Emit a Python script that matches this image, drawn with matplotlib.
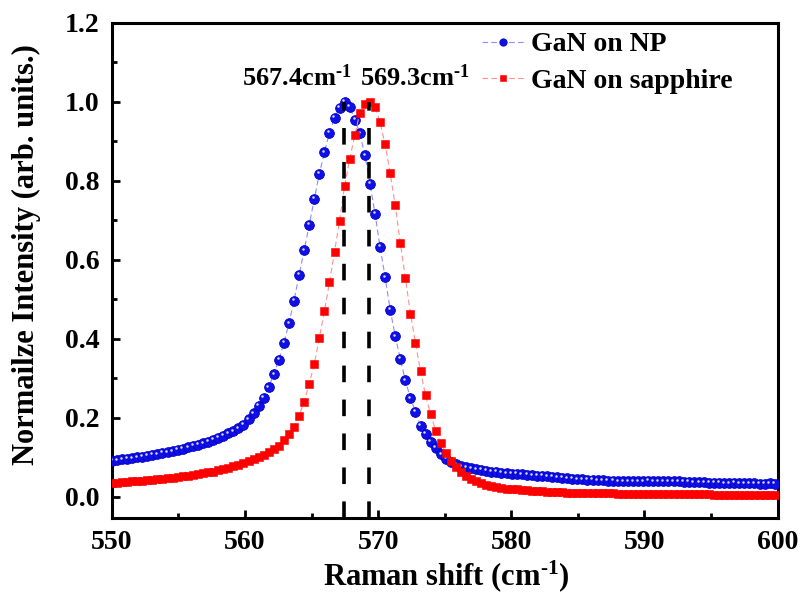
import matplotlib
matplotlib.use("Agg")
import matplotlib.pyplot as plt
from matplotlib.ticker import MultipleLocator
from matplotlib.transforms import offset_copy

plt.rcParams['font.family'] = ['Liberation Serif', 'DejaVu Serif']
plt.rcParams['font.weight'] = 'bold'
plt.rcParams['mathtext.fontset'] = 'custom'
plt.rcParams['mathtext.rm'] = 'Liberation Serif:bold'
plt.rcParams['mathtext.bf'] = 'Liberation Serif:bold'
plt.rcParams['mathtext.default'] = 'bf'

# Raman shift (cm-1), same grid for both samples
shift = [
    550.00, 550.38, 550.76, 551.14, 551.52, 551.90, 552.28, 552.66, 553.04, 553.42,
    553.80, 554.18, 554.56, 554.94, 555.32, 555.70, 556.08, 556.46, 556.84, 557.22,
    557.60, 557.98, 558.36, 558.74, 559.12, 559.50, 559.88, 560.26, 560.64, 561.02,
    561.40, 561.78, 562.16, 562.54, 562.92, 563.30, 563.68, 564.06, 564.44, 564.82,
    565.20, 565.58, 565.96, 566.34, 566.72, 567.10, 567.48, 567.86, 568.24, 568.62,
    569.00, 569.38, 569.76, 570.14, 570.52, 570.90, 571.28, 571.66, 572.04, 572.42,
    572.80, 573.18, 573.56, 573.94, 574.32, 574.70, 575.08, 575.46, 575.84, 576.22,
    576.60, 576.98, 577.36, 577.74, 578.12, 578.50, 578.88, 579.26, 579.64, 580.02,
    580.40, 580.78, 581.16, 581.54, 581.92, 582.30, 582.68, 583.06, 583.44, 583.82,
    584.20, 584.58, 584.96, 585.34, 585.72, 586.10, 586.48, 586.86, 587.24, 587.62,
    588.00, 588.38, 588.76, 589.14, 589.52, 589.90, 590.28, 590.66, 591.04, 591.42,
    591.80, 592.18, 592.56, 592.94, 593.32, 593.70, 594.08, 594.46, 594.84, 595.22,
    595.60, 595.98, 596.36, 596.74, 597.12, 597.50, 597.88, 598.26, 598.64, 599.02,
    599.40, 599.78,
]

# normalized intensity, GaN on NP
gan_np = [
    0.092, 0.093, 0.095, 0.096, 0.098, 0.100, 0.102, 0.104, 0.106, 0.108,
    0.111, 0.113, 0.116, 0.119, 0.122, 0.125, 0.129, 0.132, 0.136, 0.140,
    0.145, 0.150, 0.155, 0.161, 0.166, 0.174, 0.183, 0.196, 0.212, 0.230,
    0.251, 0.278, 0.310, 0.347, 0.390, 0.440, 0.497, 0.562, 0.624, 0.689,
    0.755, 0.818, 0.872, 0.922, 0.959, 0.985, 1.000, 0.988, 0.955, 0.920,
    0.865, 0.793, 0.717, 0.633, 0.556, 0.474, 0.407, 0.349, 0.295, 0.250,
    0.215, 0.180, 0.160, 0.140, 0.124, 0.108, 0.097, 0.088, 0.082, 0.078,
    0.075, 0.072, 0.070, 0.068, 0.066, 0.064, 0.063, 0.061, 0.060, 0.059,
    0.058, 0.057, 0.056, 0.055, 0.054, 0.053, 0.052, 0.051, 0.050, 0.049,
    0.047, 0.046, 0.045, 0.044, 0.043, 0.043, 0.042, 0.042, 0.041, 0.041,
    0.040, 0.040, 0.040, 0.039, 0.040, 0.040, 0.041, 0.040, 0.040, 0.039,
    0.039, 0.040, 0.039, 0.038, 0.038, 0.037, 0.037, 0.037, 0.036, 0.036,
    0.036, 0.035, 0.035, 0.036, 0.035, 0.034, 0.034, 0.034, 0.033, 0.033,
    0.034, 0.033,
]

# normalized intensity, GaN on sapphire
gan_sapphire = [
    0.035, 0.036, 0.037, 0.038, 0.039, 0.040, 0.041, 0.042, 0.043, 0.044,
    0.046, 0.047, 0.049, 0.050, 0.052, 0.054, 0.056, 0.058, 0.060, 0.062,
    0.064, 0.067, 0.070, 0.073, 0.077, 0.081, 0.085, 0.090, 0.095, 0.100,
    0.106, 0.113, 0.121, 0.130, 0.143, 0.158, 0.178, 0.205, 0.241, 0.286,
    0.336, 0.403, 0.470, 0.543, 0.620, 0.699, 0.788, 0.855, 0.915, 0.972,
    0.995, 1.000, 0.987, 0.948, 0.892, 0.820, 0.738, 0.643, 0.555, 0.464,
    0.390, 0.318, 0.257, 0.209, 0.167, 0.136, 0.110, 0.090, 0.075, 0.062,
    0.053, 0.046, 0.040, 0.035, 0.031, 0.028, 0.025, 0.023, 0.021, 0.020,
    0.019, 0.018, 0.017, 0.016, 0.015, 0.014, 0.013, 0.013, 0.012, 0.012,
    0.011, 0.011, 0.010, 0.010, 0.010, 0.010, 0.009, 0.009, 0.009, 0.009,
    0.008, 0.008, 0.008, 0.008, 0.008, 0.007, 0.007, 0.007, 0.007, 0.007,
    0.007, 0.006, 0.006, 0.006, 0.006, 0.006, 0.006, 0.006, 0.006, 0.005,
    0.005, 0.005, 0.005, 0.005, 0.005, 0.005, 0.005, 0.005, 0.005, 0.005,
    0.005, 0.005,
]

# peak positions (cm-1)
peaks = [567.4, 569.3]

sup = r'$^{\text{-}1}$'

fig = plt.figure(figsize=(8.05, 6.0), dpi=100)
ax = fig.add_axes([0.139, 0.137, 0.827, 0.825])

l_np, = ax.plot(shift, gan_np, linestyle=(0, (5, 3)), lw=0.8, color='#8c8cff',
                marker='o', ms=7.0, mfc='#1010e6', mec='#0000c8', mew=0.6,
                label='GaN on NP', zorder=3)
# little highlight on each ball
hl = offset_copy(ax.transData, fig=fig, x=-0.9, y=1.1, units='points')
ax.plot(shift, gan_np, linestyle='none', marker='o', ms=1.8, mfc='#d8d8ff',
        mec='none', transform=hl, zorder=3.5)

l_sa, = ax.plot(shift, gan_sapphire, linestyle=(0, (5, 3)), lw=0.8, color='#ff9090',
                marker='s', ms=6.2, mfc='#ff0000', mec='#ff0000', mew=0.4,
                label='GaN on sapphire', zorder=4)

ax.set_xlim(550, 600)
ax.set_ylim(-0.053, 1.2)

# dashed markers at the two peak positions
for p in peaks:
    ax.plot([p, p], [-0.053, 1.0], color='black', lw=2.6,
            linestyle=(0, (4.6, 4.8)), zorder=6)
ax.text(peaks[0] + 0.6, 1.04, '%.1fcm' % peaks[0] + sup, ha='right',
        va='baseline', fontsize=19, fontweight='bold')
ax.text(peaks[1] - 0.65, 1.04, '%.1fcm' % peaks[1] + sup, ha='left',
        va='baseline', fontsize=19, fontweight='bold')

ax.xaxis.set_major_locator(MultipleLocator(10))
ax.xaxis.set_minor_locator(MultipleLocator(5))
ax.yaxis.set_major_locator(MultipleLocator(0.2))
ax.yaxis.set_minor_locator(MultipleLocator(0.1))
ax.yaxis.set_major_formatter(plt.FormatStrFormatter('%.1f'))
ax.tick_params(which='both', direction='in', top=False, right=False, width=2.0)
ax.tick_params(which='major', length=6, labelsize=20)
ax.tick_params(which='minor', length=3.5)
ax.tick_params(axis='x', which='major', pad=9)
ax.tick_params(axis='y', which='major', pad=9)
for lab in ax.get_xticklabels() + ax.get_yticklabels():
    lab.set_fontweight('bold')
for s in ax.spines.values():
    s.set_linewidth(2.2)

ax.set_xlabel('Raman shift (cm' + sup + ')', fontsize=22, fontweight='bold')
ax.set_ylabel('Normailze Intensity (arb. units.)', fontsize=22, fontweight='bold')
ax.xaxis.label.set_va('center')
ax.yaxis.label.set_va('center')
ax.xaxis.set_label_coords(0.503, -0.117)
ax.yaxis.set_label_coords(-0.128, 0.531)

leg = ax.legend(handles=[l_np, l_sa], loc='upper left', bbox_to_anchor=(0.55, 0.99),
                frameon=False, fontsize=20, handlelength=1.5, handletextpad=0.25,
                labelspacing=0.4, borderpad=0.15, borderaxespad=0.0, numpoints=1,
                markerscale=0.75)
for t in leg.get_texts():
    t.set_fontweight('bold')

fig.savefig('out.png', dpi=100)
